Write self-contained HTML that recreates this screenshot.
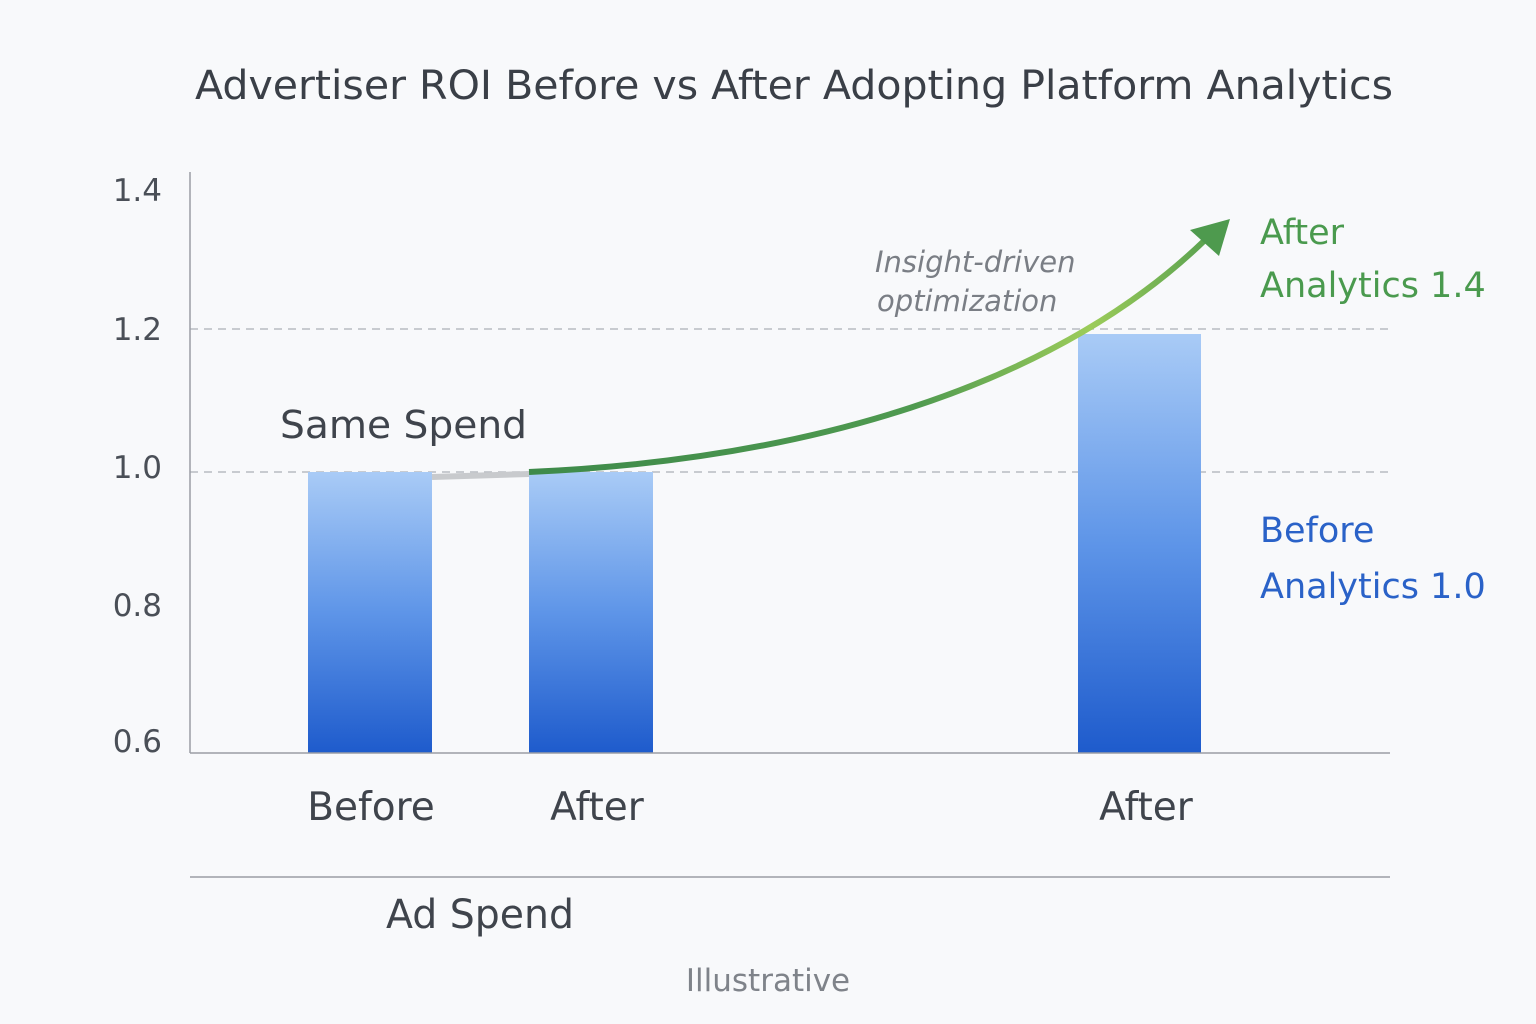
<!DOCTYPE html>
<html><head><meta charset="utf-8"><style>
html,body{margin:0;padding:0;background:#f8f9fb;}
svg{display:block}
</style></head><body>
<svg width="1536" height="1024" viewBox="0 0 1536 1024" xmlns="http://www.w3.org/2000/svg" font-family="'DejaVu Sans','Liberation Sans',sans-serif">
<defs>
<linearGradient id="bar" x1="0" y1="0" x2="0" y2="1">
<stop offset="0" stop-color="#a9cbf6"/><stop offset="0.5" stop-color="#5e95e8"/><stop offset="1" stop-color="#1e5bcc"/>
</linearGradient>
<linearGradient id="arr" x1="529" y1="0" x2="1230" y2="0" gradientUnits="userSpaceOnUse">
<stop offset="0" stop-color="#3e8a4a"/><stop offset="0.55" stop-color="#4f9a50"/><stop offset="0.8" stop-color="#9ccc5a"/><stop offset="1" stop-color="#4e9a4e"/>
</linearGradient>
</defs>
<rect width="1536" height="1024" fill="#f8f9fb"/>
<text x="195" y="99" font-size="40" fill="#3a3f47" textLength="1198" lengthAdjust="spacingAndGlyphs">Advertiser ROI Before vs After Adopting Platform Analytics</text>
<g font-size="31" fill="#4a4f57" text-anchor="end">
<text x="162" y="201">1.4</text><text x="162" y="340">1.2</text><text x="162" y="478">1.0</text><text x="162" y="616">0.8</text><text x="162" y="752">0.6</text>
</g>
<line x1="190" y1="329" x2="1390" y2="329" stroke="#b8bcc2" stroke-width="1.5" stroke-dasharray="8,6"/>
<line x1="190" y1="472" x2="1390" y2="472" stroke="#b8bcc2" stroke-width="1.5" stroke-dasharray="8,6"/>
<rect x="308" y="472" width="124" height="281" fill="url(#bar)"/>
<rect x="529" y="472" width="124" height="281" fill="url(#bar)"/>
<rect x="1078" y="334" width="123" height="419" fill="url(#bar)"/>
<line x1="190" y1="172" x2="190" y2="753" stroke="#9a9ea5" stroke-width="1.5"/>
<line x1="190" y1="753" x2="1390" y2="753" stroke="#9a9ea5" stroke-width="1.5"/>
<path d="M432 477 L529 474" stroke="#c8cacd" stroke-width="6" fill="none"/>
<path d="M529 472 C800 460 1050 390 1205 240" stroke="url(#arr)" stroke-width="6" fill="none"/>
<polygon points="1230,219 1219,256 1190,230" fill="#4e9a4e"/>
<text x="280" y="438" font-size="38" fill="#3f444c" textLength="247" lengthAdjust="spacingAndGlyphs">Same Spend</text>
<g font-size="29" fill="#7a7e85" font-style="italic">
<text x="875" y="272">Insight-driven</text><text x="877" y="311">optimization</text>
</g>
<g font-size="35" fill="#4a9a4e"><text x="1260" y="244">After</text><text x="1260" y="297">Analytics 1.4</text></g>
<g font-size="35" fill="#2a62c8"><text x="1260" y="542">Before</text><text x="1260" y="598">Analytics 1.0</text></g>
<g font-size="39" fill="#3f444c" text-anchor="middle">
<text x="371" y="820">Before</text><text x="597" y="820">After</text><text x="1146" y="820">After</text>
</g>
<text x="386" y="928" font-size="40" fill="#3f444c" textLength="188" lengthAdjust="spacingAndGlyphs">Ad Spend</text>
<line x1="190" y1="877" x2="1390" y2="877" stroke="#9a9ea5" stroke-width="1.5"/>
<text x="768" y="991" font-size="31" fill="#7f838a" text-anchor="middle">Illustrative</text>
</svg>
</body></html>
